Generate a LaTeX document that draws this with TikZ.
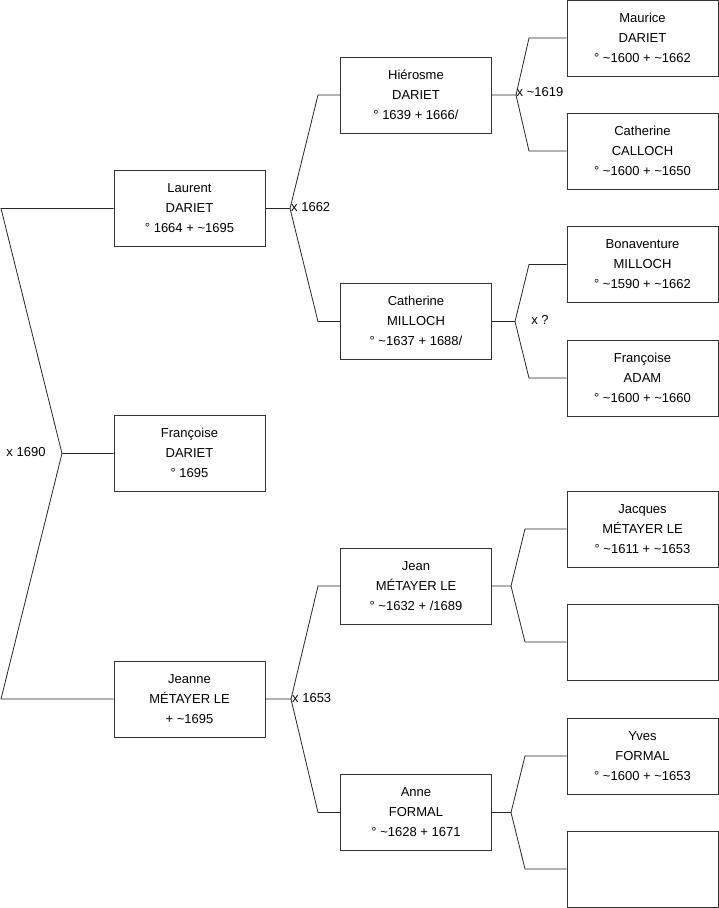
\documentclass[tikz,border=0pt]{standalone}
\usepackage{fontspec}
\setmainfont{Liberation Sans}
\newcommand{\ptext}[1]{\raisebox{1.5pt}{\begin{tabular}{@{}c@{}}#1\end{tabular}}}
\begin{document}
\begin{tikzpicture}[x=1pt,y=-1pt,
  person/.style={draw=black!80,line width=0.9pt,minimum width=151pt,minimum height=76pt,
    align=center,inner sep=0pt,font=\fontsize{13}{20}\selectfont},
  link/.style={draw=black!85,line width=0.8pt},
  lab/.style={font=\fontsize{13}{15}\selectfont,inner sep=1pt}]
\useasboundingbox (0,0) rectangle (719,908);
% column 1
\node[person] (laurent) at (189.5,208.5) {\ptext{Laurent\\DARIET\\° 1664 + \textasciitilde1695}};
\node[person] (francoise) at (189.5,453.5) {\ptext{Françoise\\DARIET\\° 1695}};
\node[person] (jeanne) at (189.5,699) {\ptext{Jeanne\\MÉTAYER LE\\+ \textasciitilde1695}};
% column 2
\node[person] (hierosme) at (416,95) {\ptext{Hiérosme\\DARIET\\° 1639 + 1666/}};
\node[person] (catm) at (416,321.5) {\ptext{Catherine\\MILLOCH\\° \textasciitilde1637 + 1688/}};
\node[person] (jean) at (416,586) {\ptext{Jean\\MÉTAYER LE\\° \textasciitilde1632 + /1689}};
\node[person] (anne) at (416,812.5) {\ptext{Anne\\FORMAL\\° \textasciitilde1628 + 1671}};
% column 3
\node[person] (maurice) at (642.5,38) {\ptext{Maurice\\DARIET\\° \textasciitilde1600 + \textasciitilde1662}};
\node[person] (catc) at (642.5,151) {\ptext{Catherine\\CALLOCH\\° \textasciitilde1600 + \textasciitilde1650}};
\node[person] (bona) at (642.5,264.5) {\ptext{Bonaventure\\MILLOCH\\° \textasciitilde1590 + \textasciitilde1662}};
\node[person] (fadam) at (642.5,378) {\ptext{Françoise\\ADAM\\° \textasciitilde1600 + \textasciitilde1660}};
\node[person] (jacques) at (642.5,529) {\ptext{Jacques\\MÉTAYER LE\\° \textasciitilde1611 + \textasciitilde1653}};
\node[person] (empty1) at (642.5,642) {};
\node[person] (yves) at (642.5,756) {\ptext{Yves\\FORMAL\\° \textasciitilde1600 + \textasciitilde1653}};
\node[person] (empty2) at (642.5,869) {};
% junctions
\coordinate (r0) at (62,453.5);
\coordinate (r1) at (1,208.5);
\coordinate (r2) at (1,699);
\coordinate (jl) at (290,208.5);
\coordinate (jla) at (318,95);
\coordinate (jlb) at (318,321.5);
\coordinate (jj) at (291,699);
\coordinate (jja) at (318,586);
\coordinate (jjb) at (318,812.5);
\coordinate (jh) at (516,95);
\coordinate (jha) at (529,38);
\coordinate (jhb) at (529,151);
\coordinate (jc) at (515,321.5);
\coordinate (jca) at (529,264.5);
\coordinate (jcb) at (529,378);
\coordinate (je) at (511,586);
\coordinate (jea) at (525,529);
\coordinate (jeb) at (525,642);
\coordinate (jn) at (511,812.5);
\coordinate (jna) at (525,756);
\coordinate (jnb) at (525,869);
% connectors
\draw[link] (laurent.west) -- (r1) -- (r0) -- (francoise.west);
\draw[link] (r0) -- (r2) -- (jeanne.west);
\draw[link] (laurent.east) -- (jl) -- (jla) -- (hierosme.west);
\draw[link] (jl) -- (jlb) -- (catm.west);
\draw[link] (jeanne.east) -- (jj) -- (jja) -- (jean.west);
\draw[link] (jj) -- (jjb) -- (anne.west);
\draw[link] (hierosme.east) -- (jh) -- (jha) -- (maurice.west);
\draw[link] (jh) -- (jhb) -- (catc.west);
\draw[link] (catm.east) -- (jc) -- (jca) -- (bona.west);
\draw[link] (jc) -- (jcb) -- (fadam.west);
\draw[link] (jean.east) -- (je) -- (jea) -- (jacques.west);
\draw[link] (je) -- (jeb) -- (empty1.west);
\draw[link] (anne.east) -- (jn) -- (jna) -- (yves.west);
\draw[link] (jn) -- (jnb) -- (empty2.west);
% labels
\node[lab] (l1690) at (26,452) {x 1690};
\node[lab,anchor=west] (l1662) at (290,207.5) {x 1662};
\node[lab,anchor=west] (l1619) at (515.5,92.5) {x \textasciitilde1619};
\node[lab] (lq) at (540,320) {x ?};
\node[lab,anchor=west] (l1653) at (291,698) {x 1653};
\end{tikzpicture}
\end{document}
